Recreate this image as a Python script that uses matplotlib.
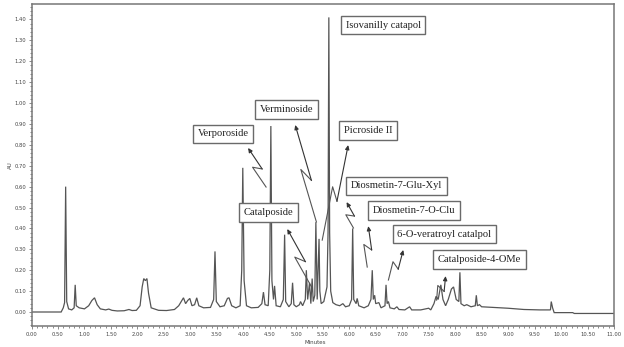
import numpy as np
import matplotlib
matplotlib.use("Agg")
import matplotlib.pyplot as plt
from matplotlib.ticker import MultipleLocator, FormatStrFormatter

# ---- data (time in minutes, absorbance in AU) ----
time_min = [0.00, 0.56, 0.60, 0.625, 0.645, 0.665, 0.70, 0.76, 0.805, 0.825,
            0.845, 0.90, 1.00, 1.08, 1.14, 1.19, 1.24, 1.30, 1.40, 1.46,
            1.52, 1.62, 1.75, 1.84, 1.90, 1.98, 2.05, 2.09, 2.12, 2.15,
            2.18, 2.21, 2.26, 2.40, 2.55, 2.70, 2.78, 2.84, 2.87, 2.91,
            2.95, 2.99, 3.03, 3.08, 3.12, 3.16, 3.25, 3.38, 3.44, 3.465,
            3.49, 3.56, 3.64, 3.70, 3.73, 3.78, 3.86, 3.94, 3.97, 3.99,
            4.015, 4.06, 4.15, 4.28, 4.35, 4.38, 4.41, 4.47, 4.50, 4.52,
            4.54, 4.57, 4.59, 4.62, 4.70, 4.755, 4.78, 4.80, 4.86, 4.905,
            4.93, 4.955, 5.00, 5.06, 5.08, 5.12, 5.17, 5.19, 5.215, 5.25,
            5.275, 5.30, 5.32, 5.35, 5.37, 5.395, 5.43, 5.445, 5.47, 5.52,
            5.58, 5.60, 5.615, 5.63, 5.65, 5.69, 5.75, 5.82, 5.88, 5.93,
            6.00, 6.045, 6.065, 6.085, 6.13, 6.15, 6.18, 6.28, 6.36, 6.41,
            6.435, 6.455, 6.48, 6.50, 6.56, 6.60, 6.675, 6.695, 6.715, 6.74,
            6.77, 6.85, 6.90, 6.94, 7.05, 7.14, 7.18, 7.35, 7.50, 7.54,
            7.60, 7.64, 7.68, 7.73, 7.77, 7.82, 7.87, 7.93, 7.97, 8.02,
            8.07, 8.09, 8.11, 8.17, 8.22, 8.30, 8.38, 8.40, 8.42, 8.46,
            8.50, 8.70, 9.00, 9.30, 9.60, 9.80, 9.815, 9.84, 9.87, 10.22,
            10.25, 11.00]
absorbance = [0.000, 0.000, 0.020, 0.045, 0.600, 0.050, 0.015, 0.010, 0.020, 0.130,
              0.030, 0.020, 0.015, 0.030, 0.055, 0.068, 0.035, 0.015, 0.010, 0.014,
              0.008, 0.005, 0.006, 0.012, 0.007, 0.008, 0.030, 0.120, 0.160, 0.150,
              0.160, 0.090, 0.020, 0.008, 0.007, 0.012, 0.030, 0.055, 0.068, 0.040,
              0.055, 0.065, 0.030, 0.035, 0.068, 0.030, 0.020, 0.022, 0.060, 0.290,
              0.050, 0.025, 0.030, 0.065, 0.068, 0.030, 0.020, 0.030, 0.200, 0.690,
              0.150, 0.030, 0.020, 0.022, 0.040, 0.095, 0.035, 0.030, 0.200, 0.890,
              0.150, 0.060, 0.125, 0.030, 0.025, 0.060, 0.370, 0.050, 0.025, 0.040,
              0.140, 0.035, 0.025, 0.035, 0.050, 0.030, 0.060, 0.200, 0.060, 0.140,
              0.040, 0.160, 0.050, 0.080, 0.430, 0.060, 0.350, 0.100, 0.040, 0.050,
              0.120, 0.380, 1.410, 0.380, 0.100, 0.045, 0.035, 0.030, 0.040, 0.025,
              0.030, 0.060, 0.400, 0.060, 0.040, 0.065, 0.030, 0.020, 0.030, 0.060,
              0.200, 0.060, 0.080, 0.040, 0.045, 0.020, 0.030, 0.130, 0.040, 0.050,
              0.020, 0.015, 0.025, 0.012, 0.010, 0.025, 0.010, 0.010, 0.018, 0.010,
              0.040, 0.075, 0.060, 0.130, 0.060, 0.030, 0.060, 0.110, 0.120, 0.060,
              0.050, 0.190, 0.040, 0.030, 0.035, 0.025, 0.030, 0.080, 0.030, 0.035,
              0.025, 0.022, 0.018, 0.012, 0.010, 0.010, 0.050, 0.020, -0.003, -0.003,
              -0.007, -0.007]

# ---- annotations: label, box centre (min, AU), arrow head, arrow tail ----
compound_labels = ["Isovanilly catapol", "Verminoside", "Verporoside", "Picroside II",
                   "Catalposide", "Diosmetin-7-Glu-Xyl", "Diosmetin-7-O-Clu",
                   "6-O-veratroyl catalpol", "Catalposide-4-OMe"]
label_x = [6.64, 4.81, 3.62, 6.36, 4.48, 6.89, 7.23, 7.80, 8.46]
label_y = [1.373, 0.969, 0.852, 0.868, 0.476, 0.603, 0.486, 0.373, 0.251]
arrow_head = [None, (4.98, 0.895), (4.09, 0.785), (5.98, 0.799), (4.83, 0.397),
              (5.95, 0.526), (6.36, 0.411), (7.02, 0.297), (7.82, 0.172)]
arrow_tail = [None, (5.38, 0.431), (4.43, 0.598), (5.49, 0.344), (5.30, 0.115),
              (6.08, 0.402), (6.34, 0.215), (6.74, 0.153), (7.65, 0.057)]

fig = plt.figure(figsize=(6.24, 3.47), dpi=100)
ax = fig.add_axes([31.5 / 624, 21 / 347, (614 - 31.5) / 624, (326 - 4) / 347])
ax.set_xlim(0, 11.0)
ax.set_ylim(-0.067, 1.474)

ax.plot(time_min, absorbance, color="#555555", lw=0.9, solid_joinstyle="miter")

# axes styling
for s in ax.spines.values():
    s.set_color("#777777")
    s.set_linewidth(1.1)
ax.xaxis.set_major_locator(MultipleLocator(0.5))
ax.xaxis.set_minor_locator(MultipleLocator(0.1))
ax.yaxis.set_minor_locator(MultipleLocator(0.02))
ax.xaxis.set_major_formatter(FormatStrFormatter("%.2f"))
ax.yaxis.set_major_formatter(FormatStrFormatter("%.2f"))
ax.set_yticks([v for v in np.arange(0, 1.41, 0.1)])
ax.tick_params(which="both", direction="out", colors="#777777", labelcolor="#444444",
               labelsize=3.8, width=0.6)
ax.tick_params(which="major", length=2.5, pad=1.5)
ax.tick_params(which="minor", length=1.5)
ax.set_xlabel("Minutes", fontsize=4, color="#444444", labelpad=0)
ax.xaxis.set_label_coords(0.487, -0.045)
ax.set_ylabel("AU", fontsize=4, color="#444444", labelpad=1)

# labels with boxes
for name, lx, ly in zip(compound_labels, label_x, label_y):
    ax.text(lx, ly, name, ha="center", va="center", fontsize=7.6,
            family="Liberation Serif", color="#222222",
            bbox=dict(boxstyle="square,pad=0.45", fc="white", ec="#6a6a6a", lw=1.0))

# lightning-shaped arrows
trans = ax.transData
inv = trans.inverted()
for head, tail in zip(arrow_head, arrow_tail):
    if head is None:
        continue
    h = np.array(trans.transform(head))
    t = np.array(trans.transform(tail))
    d = h - t
    L = np.hypot(*d)
    u = d / L
    n = np.array([-u[1], u[0]])
    p1 = t + 0.55 * d + 4.0 * n
    p2 = t + 0.42 * d - 4.0 * n
    pts = inv.transform(np.vstack([t, p1, p2]))
    ax.plot(pts[:, 0], pts[:, 1], color="#555555", lw=0.8)
    ax.annotate("", xy=head, xytext=tuple(pts[2]),
                arrowprops=dict(arrowstyle="-|>,head_length=0.25,head_width=0.12",
                                color="#333333", lw=0.8, shrinkA=0, shrinkB=0))

fig.savefig("out.png", dpi=100)
